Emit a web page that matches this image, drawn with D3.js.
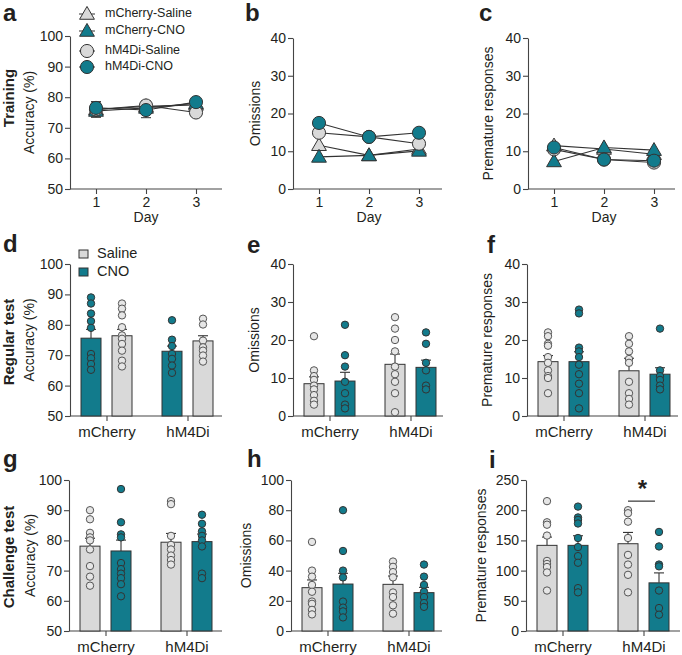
<!DOCTYPE html>
<html><head><meta charset="utf-8">
<script src="https://cdn.jsdelivr.net/npm/d3@7"></script>
<style>
body{margin:0;background:#fff}
svg{display:block}
text{font-family:"Liberation Sans",Arial,Helvetica,sans-serif;fill:#231f20}
</style>
</head><body><svg id="chart" width="682" height="655"></svg>
<script>
// ---------- DATA ----------
const days = [1, 2, 3];
const seriesNames = ["mCherry-Saline", "mCherry-CNO", "hM4Di-Saline", "hM4Di-CNO"];
const groups = ["mCherry", "hM4Di"];
const conditions = ["Saline", "CNO"];

// Training (a–c): rows follow seriesNames, columns follow days
const trainAccMean = [[76, 77, 77.5], [75.5, 76.5, 78], [76, 77.3, 75], [76.5, 75.8, 78.4]];
const trainAccSem  = [[2, 1.5, 1], [2, 2, 1], [2.5, 1.5, 1], [2, 2.5, 1]];
const trainOmMean  = [[11.6, 8.9, 10.6], [8.5, 8.9, 10.1], [14.9, 13.8, 12.0], [17.5, 13.8, 14.9]];
const trainPremMean = [[11.5, 10.6, 9.2], [7.3, 11.0, 10.3], [10.5, 7.8, 7.0], [11.0, 7.8, 7.5]];

// Regular test (d–f): order mCherry-Saline, mCherry-CNO, hM4Di-Saline, hM4Di-CNO
const regAccMean = [76.4, 75.6, 74.7, 71.3];
const regAccSem  = [2.1, 2.9, 1.7, 1.7];
const regAccDots = [
  [87, 85.3, 83.1, 79.2, 76.5, 75.4, 73.7, 71.5, 68.2, 66.3],
  [89, 87, 83.7, 81.2, 79, 70.4, 69, 67.1, 65.2],
  [82, 80.1, 74.8, 72.6, 71.5, 69.9, 67.9],
  [81.5, 75.1, 73, 70.4, 68.8, 66.6, 64.2]
];
const regOmMean = [8.5, 9.2, 13.6, 12.8];
const regOmSem  = [1.8, 2.3, 2.7, 1.9];
const regOmDots = [
  [21, 12, 10.5, 9.5, 8, 7, 5.5, 4, 3],
  [24, 16, 13, 9, 6, 3, 2],
  [26, 23, 20, 17, 13, 11, 9, 6, 1],
  [22, 19, 14, 12, 8, 7]
];
const regPremMean = [14.3, 14.3, 11.9, 11.0];
const regPremSem  = [1.6, 2.6, 3.3, 1.7];
const regPremDots = [
  [22, 21, 19, 18.5, 15.5, 14, 12, 10.5, 10, 6],
  [28, 27, 18, 17, 15.5, 13.5, 11, 8.5, 6, 2],
  [21, 19, 17, 15, 14, 9, 6, 4.5, 3],
  [23, 12, 10.5, 9.5, 8, 7]
];

// Challenge test (g–i)
const chAccMean = [78.1, 76.5, 79.4, 79.6];
const chAccSem  = [2.6, 3.6, 2.9, 2.5];
const chAccDots = [
  [90, 87, 82.5, 81, 80, 77, 71.5, 68, 65],
  [97, 86, 82, 81, 72.5, 70.5, 69, 67.5, 65.5, 61.5],
  [93, 92, 81.5, 78.5, 77, 75, 73.5, 72],
  [88.5, 85.5, 83, 81.5, 80, 78, 69, 67.5]
];
const chOmMean = [28.7, 31.1, 30.9, 25.4];
const chOmSem  = [5.1, 7.1, 5.5, 3.5];
const chOmDots = [
  [59, 40, 36, 30.5, 26, 19.5, 18, 14, 11],
  [80, 53, 40, 35.5, 19.5, 15.5, 13, 9],
  [46, 42.5, 39, 35.5, 25.5, 22.5, 17, 11.5],
  [44, 36, 30.5, 26, 22.5, 18.5, 16]
];
const chPremMean = [141.8, 141.8, 144.5, 79.7];
const chPremSem  = [13.7, 15.9, 18.7, 16.5];
const chPremDots = [
  [215, 180, 176, 158, 116, 111, 106, 97, 67],
  [206, 188, 184, 178, 154, 139, 124, 113, 71, 64],
  [200, 195, 181, 154, 126, 110, 93, 64],
  [164, 140, 110, 107, 67, 38, 27]
];
const sigLevel = 215;   // y-value of significance bar in panel i
const sigLabel = "*";

// ---------- STYLE ----------
const TEAL = "#127b8c";
const GREY = "#d9d9d9";
const DARK = "#333333";
const AX = "#444444";
const FONT = 14;

const svg = d3.select("#chart");

function styleAxis(g, fs) {
  g.selectAll("path.domain").attr("stroke", AX).attr("stroke-width", 1.1);
  g.selectAll(".tick line").attr("stroke", AX).attr("stroke-width", 1.1);
  g.selectAll(".tick text").attr("font-size", fs || FONT).attr("fill", "#231f20")
    .attr("font-family", '"Liberation Sans",Arial,sans-serif');
}

function yAxis(p, y, ticks) {
  const g = svg.append("g").attr("transform", `translate(${p.x0},0)`)
    .call(d3.axisLeft(y).tickValues(ticks).tickSize(5).tickSizeOuter(0).tickPadding(2));
  styleAxis(g);
}

function yLabel(text, x, yc) {
  svg.append("text").attr("transform", `translate(${x},${yc}) rotate(-90)`)
    .attr("text-anchor", "middle").attr("dominant-baseline", "middle")
    .attr("font-size", FONT).text(text);
}

function letter(t, x, y) {
  svg.append("text").attr("x", x).attr("y", y).attr("font-size", 24)
    .attr("font-weight", "bold").text(t);
}

function rowTitle(t, yc) {
  svg.append("text").attr("transform", `translate(10,${yc}) rotate(-90)`)
    .attr("text-anchor", "middle").attr("dominant-baseline", "middle")
    .attr("font-size", 15).attr("font-weight", "bold").text(t);
}

function symbolFor(i) {
  return (i < 2) ? d3.symbolTriangle : d3.symbolCircle;
}
function fillFor(i) { return (i % 2 === 0) ? GREY : TEAL; }
function sizeFor(i) { return (i < 2) ? 95 : 135; }

// ---------- LINE PANELS ----------
function linePanel(p) {
  const y = d3.scaleLinear().domain(p.domain).range([p.yBot, p.yTop]);
  const x = d3.scalePoint().domain(days).range([p.x0 + 26, p.x0 + 126]);
  svg.append("line").attr("x1", p.x0).attr("x2", p.x1).attr("y1", p.yBot).attr("y2", p.yBot)
    .attr("stroke", AX).attr("stroke-width", 1.1);
  const gx = svg.append("g").attr("transform", `translate(0,${p.yBot})`)
    .call(d3.axisBottom(x).tickSize(5).tickPadding(3));
  gx.select(".domain").remove();
  styleAxis(gx);
  yAxis(p, y, p.ticks);
  svg.append("text").attr("x", x(2)).attr("y", p.yBot + 33).attr("text-anchor", "middle")
    .attr("font-size", FONT).text("Day");
  yLabel(p.ylabel, p.labelX, (p.yTop + p.yBot) / 2);

  const line = d3.line().x((d, j) => x(days[j])).y(d => y(d));
  p.mean.forEach((s) => {
    svg.append("path").attr("d", line(s)).attr("fill", "none")
      .attr("stroke", DARK).attr("stroke-width", 1.1);
  });
  p.mean.forEach((s, i) => {
    if (p.sem) {
      s.forEach((v, j) => {
        const e = p.sem[i][j];
        const cx = x(days[j]);
        svg.append("line").attr("x1", cx).attr("x2", cx).attr("y1", y(v - e)).attr("y2", y(v + e))
          .attr("stroke", DARK).attr("stroke-width", 1);
        [v - e, v + e].forEach(w => svg.append("line").attr("x1", cx - 5).attr("x2", cx + 5)
          .attr("y1", y(w)).attr("y2", y(w)).attr("stroke", DARK).attr("stroke-width", 1));
      });
    }
  });
  p.mean.forEach((s, i) => {
    s.forEach((v, j) => {
      svg.append("path").attr("d", d3.symbol().type(symbolFor(i)).size(sizeFor(i))())
        .attr("transform", `translate(${x(days[j])},${y(v) + (i < 2 ? 1 : 0)})`)
        .attr("fill", fillFor(i)).attr("stroke", DARK).attr("stroke-width", 1);
    });
  });
  letter(p.letter, p.lx, p.ly);
}

// ---------- BAR PANELS ----------
function barPanel(p) {
  const y = d3.scaleLinear().domain(p.domain).range([p.yBot, p.yTop]);
  const gx = d3.scalePoint().domain(groups).range([p.x0 + 36.5, p.x0 + 117.5]);
  const cx = d3.scalePoint().domain(p.order).range([-15.5, 15.5]);
  const bw = 20;
  svg.append("line").attr("x1", p.x0).attr("x2", p.x1).attr("y1", p.yBot).attr("y2", p.yBot)
    .attr("stroke", AX).attr("stroke-width", 1.1);
  const ga = svg.append("g").attr("transform", `translate(0,${p.yBot})`)
    .call(d3.axisBottom(gx).tickSize(5).tickPadding(3));
  ga.select(".domain").remove();
  styleAxis(ga, 15);
  ga.selectAll(".tick text").attr("dy", "0.85em");
  yAxis(p, y, p.ticks);
  yLabel(p.ylabel, p.labelX, (p.yTop + p.yBot) / 2);

  const items = [];
  groups.forEach((g, gi) => conditions.forEach((c, ci) => {
    const idx = gi * 2 + ci;
    items.push({ g, c, idx, x: gx(g) + cx(c) });
  }));
  items.forEach(it => {
    const m = p.mean[it.idx], e = p.sem[it.idx];
    const fill = it.c === "Saline" ? GREY : TEAL;
    svg.append("line").attr("x1", it.x).attr("x2", it.x).attr("y1", y(m)).attr("y2", y(m + e))
      .attr("stroke", DARK).attr("stroke-width", 1.1);
    svg.append("line").attr("x1", it.x - 5).attr("x2", it.x + 5).attr("y1", y(m + e)).attr("y2", y(m + e))
      .attr("stroke", DARK).attr("stroke-width", 1.1);
    svg.append("rect").attr("x", it.x - bw / 2).attr("y", y(m)).attr("width", bw)
      .attr("height", p.yBot - y(m)).attr("fill", fill).attr("stroke", DARK).attr("stroke-width", 1);
  });
  items.forEach(it => {
    const fill = it.c === "Saline" ? "#e6e6e6" : TEAL;
    p.dots[it.idx].forEach(v => {
      svg.append("circle").attr("cx", it.x).attr("cy", y(v)).attr("r", 3.7)
        .attr("fill", fill).attr("stroke", it.c === "Saline" ? "#555" : DARK).attr("stroke-width", 1);
    });
  });
  letter(p.letter, p.lx, p.ly);
  return { y, gx, cx };
}

// ---------- ROW 1 ----------
linePanel({ x0: 70, x1: 222, yTop: 36, yBot: 189, domain: [50, 100], ticks: [50, 60, 70, 80, 90, 100],
  mean: trainAccMean, sem: trainAccSem, ylabel: "Accuracy (%)", labelX: 30, letter: "a", lx: 3, ly: 21 });
linePanel({ x0: 293, x1: 442, yTop: 38, yBot: 189, domain: [0, 40], ticks: [0, 10, 20, 30, 40],
  mean: trainOmMean, sem: null, ylabel: "Omissions", labelX: 256, letter: "b", lx: 245, ly: 21 });
linePanel({ x0: 528, x1: 675, yTop: 38, yBot: 189, domain: [0, 40], ticks: [0, 10, 20, 30, 40],
  mean: trainPremMean, sem: null, ylabel: "Premature responses", labelX: 489, letter: "c", lx: 479, ly: 21 });

// legend (a)
const legY = [14, 31, 51, 67];
seriesNames.forEach((n, i) => {
  svg.append("line").attr("x1", 79).attr("x2", 95).attr("y1", legY[i]).attr("y2", legY[i])
    .attr("stroke", DARK).attr("stroke-width", 1);
  svg.append("path").attr("d", d3.symbol().type(symbolFor(i)).size(sizeFor(i))())
    .attr("transform", `translate(87,${legY[i] + (i < 2 ? 1 : 0)})`)
    .attr("fill", fillFor(i)).attr("stroke", DARK).attr("stroke-width", 1);
  svg.append("text").attr("x", 105).attr("y", legY[i]).attr("dominant-baseline", "middle")
    .attr("font-size", 12.5).text(n);
});

// ---------- ROW 2 ----------
barPanel({ x0: 70, x1: 222, yTop: 264, yBot: 416, domain: [50, 100], ticks: [50, 60, 70, 80, 90, 100],
  order: ["CNO", "Saline"], mean: regAccMean, sem: regAccSem, dots: regAccDots,
  ylabel: "Accuracy (%)", labelX: 30, letter: "d", lx: 3, ly: 252 });
barPanel({ x0: 293, x1: 443, yTop: 264, yBot: 416, domain: [0, 40], ticks: [0, 10, 20, 30, 40],
  order: conditions, mean: regOmMean, sem: regOmSem, dots: regOmDots,
  ylabel: "Omissions", labelX: 255, letter: "e", lx: 247, ly: 253 });
barPanel({ x0: 527, x1: 678, yTop: 264, yBot: 416, domain: [0, 40], ticks: [0, 10, 20, 30, 40],
  order: conditions, mean: regPremMean, sem: regPremSem, dots: regPremDots,
  ylabel: "Premature responses", labelX: 488, letter: "f", lx: 487, ly: 253 });

// legend (d)
[["Saline", GREY, 250], ["CNO", TEAL, 268]].forEach(([t, c, yy]) => {
  svg.append("rect").attr("x", 79).attr("y", yy).attr("width", 9).attr("height", 8)
    .attr("fill", c).attr("stroke", DARK).attr("stroke-width", 1);
  svg.append("text").attr("x", 97).attr("y", yy + 4).attr("dominant-baseline", "middle")
    .attr("font-size", 14.5).text(t);
});

// ---------- ROW 3 ----------
barPanel({ x0: 69, x1: 222, yTop: 480, yBot: 631, domain: [50, 100], ticks: [50, 60, 70, 80, 90, 100],
  order: conditions, mean: chAccMean, sem: chAccSem, dots: chAccDots,
  ylabel: "Accuracy (%)", labelX: 31, letter: "g", lx: 3, ly: 467 });
barPanel({ x0: 291, x1: 442, yTop: 480, yBot: 631, domain: [0, 100], ticks: [0, 20, 40, 60, 80, 100],
  order: conditions, mean: chOmMean, sem: chOmSem, dots: chOmDots,
  ylabel: "Omissions", labelX: 247, letter: "h", lx: 247, ly: 467 });
const pi = barPanel({ x0: 526, x1: 680, yTop: 480, yBot: 631, domain: [0, 250], ticks: [0, 50, 100, 150, 200, 250],
  order: conditions, mean: chPremMean, sem: chPremSem, dots: chPremDots,
  ylabel: "Premature responses", labelX: 482, letter: "i", lx: 489, ly: 468 });

// significance bar (i)
const sx1 = pi.gx("hM4Di") + pi.cx("Saline"), sx2 = pi.gx("hM4Di") + pi.cx("CNO") - 4;
svg.append("line").attr("x1", sx1).attr("x2", sx2).attr("y1", pi.y(sigLevel)).attr("y2", pi.y(sigLevel))
  .attr("stroke", DARK).attr("stroke-width", 1.2);
svg.append("text").attr("x", (sx1 + sx2) / 2 + 1).attr("y", pi.y(sigLevel) - 4).attr("text-anchor", "middle")
  .attr("font-size", 24).attr("font-weight", "bold").text(sigLabel);

rowTitle("Training", 98);
rowTitle("Regular test", 342);
rowTitle("Challenge test", 557);
</script>
</body></html>
